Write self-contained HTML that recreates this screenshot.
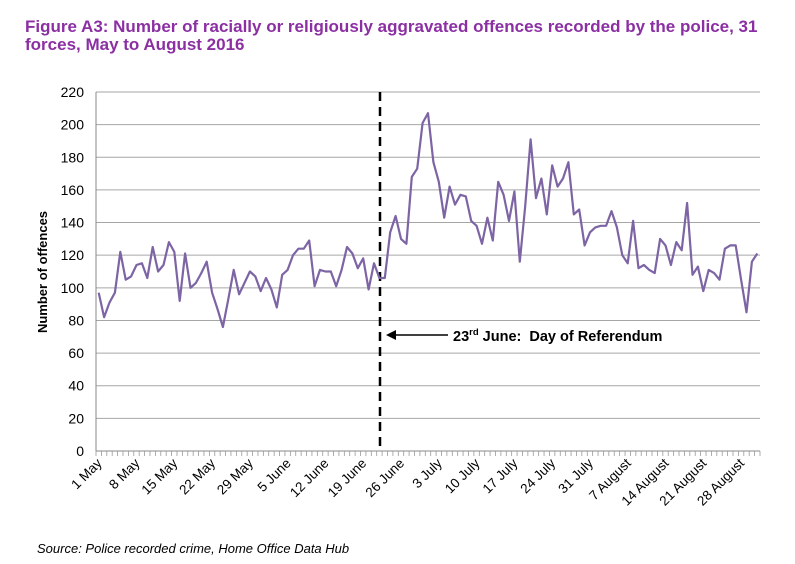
<!DOCTYPE html>
<html><head><meta charset="utf-8"><style>
body{margin:0;background:#fff;}
svg{display:block;font-family:"Liberation Sans",Arial,sans-serif;}
</style></head><body>
<svg id="chart" width="795" height="564" viewBox="0 0 795 564">
<text x="25" y="32" font-size="17" font-weight="bold" fill="#8B2FA3">Figure A3: Number of racially or religiously aggravated offences recorded by the police, 31</text>
<text x="25" y="50" font-size="17" font-weight="bold" fill="#8B2FA3">forces, May to August 2016</text>
<g id="grid"></g>
<g id="yticks"></g>
<g id="xaxis"></g>
<text transform="translate(47,272) rotate(-90)" text-anchor="middle" font-size="13" font-weight="bold">Number of offences</text>
<line x1="380" y1="92" x2="380" y2="452" stroke="#000" stroke-width="2.5" stroke-dasharray="9,6"/>
<g>
<line x1="448" y1="335" x2="394" y2="335" stroke="#000" stroke-width="1.5"/>
<polygon points="386,335 396,330 396,340" fill="#000"/>
<text x="453" y="341" font-size="14.5" font-weight="bold">23<tspan font-size="9.5" dy="-6">rd</tspan><tspan dy="6"> June:&#160; Day of Referendum</tspan></text>
</g>
<path id="series" fill="none" stroke="#7D64A4" stroke-width="2.2" stroke-linejoin="round"/>
<text x="37" y="553" font-size="13" font-style="italic">Source: Police recorded crime, Home Office Data Hub</text>
</svg>
<script>
const values=[97,82,91,97,122,105,107,114,115,106,125,110,114,128,122,92,121,100,103,109,116,97,87,76,93,111,96,103,110,107,98,106,99,88,108,111,120,124,124,129,101,111,110,110,101,111,125,121,112,118,99,115,106,
106,134,144,130,127,168,173,201,207,177,165,143,162,151,157,156,141,138,127,143,129,165,157,141,159,116,150,191,155,167,145,175,162,167,177,145,148,126,134,137,138,138,147,137,120,115,141,112,114,111,109,130,126,114,128,123,152,108,113,98,111,109,105,124,126,126,105,85,116,121];
const yTicks=[0,20,40,60,80,100,120,140,160,180,200,220];
const xLabels=["1 May","8 May","15 May","22 May","29 May","5 June","12 June","19 June","26 June","3 July","10 July","17 July","24 July","31 July","7 August","14 August","21 August","28 August"];
const NS="http://www.w3.org/2000/svg";
const L=96,R=760,T=92,B=451;
const n=values.length, step=(R-L)/n;
const xs=i=>L+(i+0.5)*step;
const ys=v=>B-(v/220)*(B-T);
const grid=document.getElementById('grid'),yt=document.getElementById('yticks'),xa=document.getElementById('xaxis');
function mk(t,a,p){const e=document.createElementNS(NS,t);for(const k in a)e.setAttribute(k,a[k]);p.appendChild(e);return e;}
yTicks.forEach(v=>{
 const g=mk('line',{x1:L,x2:R,y1:ys(v),y2:ys(v),stroke:v===0?'#888':'#a6a6a6','stroke-width':1},grid);
 
 
 const t=mk('text',{x:84,y:ys(v)+5,'text-anchor':'end','font-size':14},yt);t.textContent=v;
 
 
});
mk('line',{x1:L,x2:L,y1:T,y2:B,stroke:'#888'},xa);
for(let i=0;i<=n;i++){mk('line',{x1:L+i*step,x2:L+i*step,y1:B,y2:B+5,stroke:'#999','stroke-width':0.8},xa);}
xLabels.forEach((s,k)=>{
 const x=xs(k*7)+4,y=B+13;
 const t=mk('text',{x:x,y:y,'text-anchor':'end','font-size':13.5,transform:`rotate(-45 ${x} ${y})`},xa);
 t.textContent=s;
 
 
});
document.getElementById('series').setAttribute('d',values.map((v,i)=>(i?'L':'M')+xs(i).toFixed(1)+','+ys(v).toFixed(1)).join(''));
</script>
</body></html>
